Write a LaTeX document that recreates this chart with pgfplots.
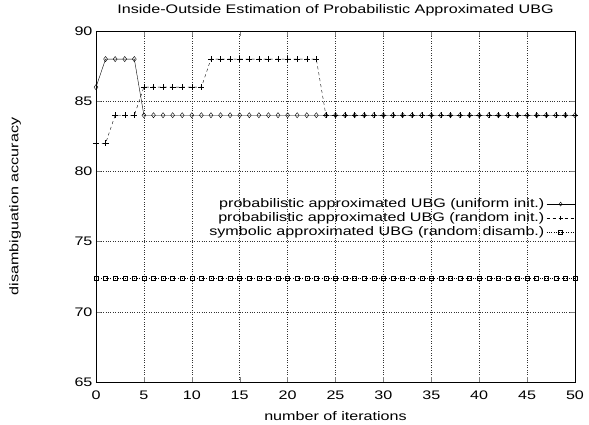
\documentclass[border=0pt]{standalone}
\usepackage{fontspec}
\setmainfont[FakeStretch=1.3]{Liberation Sans}
\usepackage{pgfplots}
\pgfplotsset{compat=1.18}
\begin{document}
\begin{tikzpicture}
\begin{scope}[overlay]
\begin{axis}[
  scale only axis, width=479pt, height=351pt,
  xmin=0, xmax=50, ymin=65, ymax=90,
  xtick={0,5,...,50}, ytick={65,70,...,90},
  tick align=inside, tick pos=both,
  major tick length=5pt,
  grid=major, grid style={black!80, dotted, line width=0.4pt},
  axis line style={line width=0.9pt},
  font=\fontsize{12.4}{14}\selectfont,
  /pgf/number format/assume math mode=true,
  ticklabel style={font=\fontsize{12.4}{14}\selectfont},
  xticklabel style={yshift=-5pt},
  title={Inside-Outside Estimation of Probabilistic Approximated UBG},
  title style={at={(axis description cs:0.5,1.043)}, anchor=center},
  xlabel={number of iterations}, ylabel={disambiguation accuracy},
  xlabel style={at={(axis description cs:0.5,-0.097)}, anchor=center},
  ylabel style={at={(axis description cs:-0.169,0.5)}, anchor=center, rotate=0},
  legend style={draw=none, fill=none, inner sep=0pt, at={(1,0.528)}, anchor=north east, row sep=-0.5pt,
    font=\fontsize{12.4}{14}\selectfont},
  legend cell align=right, legend plot pos=right,
  legend image code/.code={\draw[mark repeat=2,mark phase=2,mark size=2pt] plot coordinates {(0pt,0pt) (14pt,0pt) (28pt,0pt)};},
]
\addplot[black, thin, mark=diamond, mark size=2.6pt, mark options={solid, fill=white}] coordinates {
(0,86)(1,88)(2,88)(3,88)(4,88)(5,84)(6,84)(7,84)(8,84)(9,84)(10,84)(11,84)(12,84)(13,84)(14,84)(15,84)(16,84)(17,84)(18,84)(19,84)(20,84)(21,84)(22,84)(23,84)(24,84)(25,84)(26,84)(27,84)(28,84)(29,84)(30,84)(31,84)(32,84)(33,84)(34,84)(35,84)(36,84)(37,84)(38,84)(39,84)(40,84)(41,84)(42,84)(43,84)(44,84)(45,84)(46,84)(47,84)(48,84)(49,84)(50,84)};
\addlegendentry{probabilistic approximated UBG (uniform init.)}
\addplot[black, thin, dashed, mark=+, mark size=3pt, mark options={solid}] coordinates {
(0,82)(1,82)(2,84)(3,84)(4,84)(5,86)(6,86)(7,86)(8,86)(9,86)(10,86)(11,86)(12,88)(13,88)(14,88)(15,88)(16,88)(17,88)(18,88)(19,88)(20,88)(21,88)(22,88)(23,88)(24,84)(25,84)(26,84)(27,84)(28,84)(29,84)(30,84)(31,84)(32,84)(33,84)(34,84)(35,84)(36,84)(37,84)(38,84)(39,84)(40,84)(41,84)(42,84)(43,84)(44,84)(45,84)(46,84)(47,84)(48,84)(49,84)(50,84)};
\addlegendentry{probabilistic approximated UBG (random init.)}
\addplot[black, thin, dotted, mark=square, mark size=2pt, mark options={solid}] coordinates {
(0,72.4)(1,72.4)(2,72.4)(3,72.4)(4,72.4)(5,72.4)(6,72.4)(7,72.4)(8,72.4)(9,72.4)(10,72.4)(11,72.4)(12,72.4)(13,72.4)(14,72.4)(15,72.4)(16,72.4)(17,72.4)(18,72.4)(19,72.4)(20,72.4)(21,72.4)(22,72.4)(23,72.4)(24,72.4)(25,72.4)(26,72.4)(27,72.4)(28,72.4)(29,72.4)(30,72.4)(31,72.4)(32,72.4)(33,72.4)(34,72.4)(35,72.4)(36,72.4)(37,72.4)(38,72.4)(39,72.4)(40,72.4)(41,72.4)(42,72.4)(43,72.4)(44,72.4)(45,72.4)(46,72.4)(47,72.4)(48,72.4)(49,72.4)(50,72.4)};
\addlegendentry{symbolic approximated UBG (random disamb.)}
\coordinate (bl) at (rel axis cs:0,0);
\coordinate (tr) at (rel axis cs:1,1);
\end{axis}
\end{scope}
\useasboundingbox ([shift={(-96pt,-43pt)}]bl) rectangle ([shift={(14pt,31pt)}]tr);
\end{tikzpicture}
\end{document}
